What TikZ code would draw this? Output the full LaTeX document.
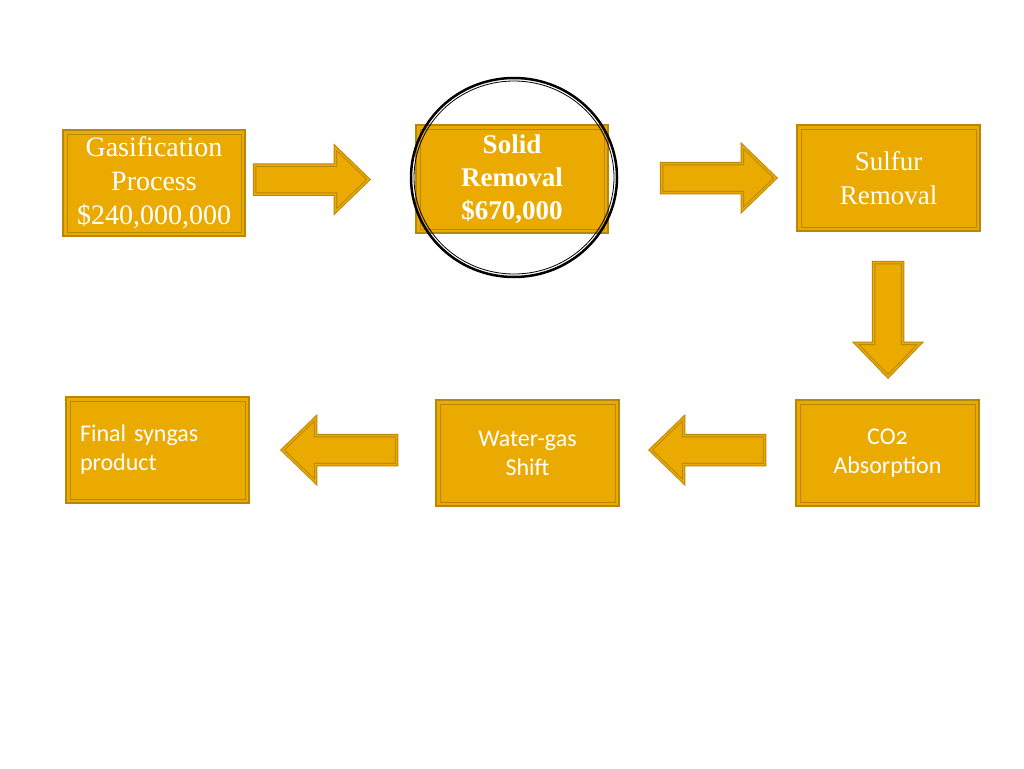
\documentclass[tikz,border=0pt]{standalone}
\usepackage{fontspec}
\setmainfont{Liberation Serif}
\newfontfamily\candara{Carlito}[Numbers=OldStyle]
\usepackage{xcolor}
\usepackage{tikz}
\usetikzlibrary{shapes.arrows}

\definecolor{boxgold}{RGB}{234,170,0}
\definecolor{rimgold}{RGB}{184,134,11}

\tikzset{
  stepbox/.style={draw=rimgold, fill=boxgold, line width=2.5pt, inner sep=0pt,
    minimum width=183pt, minimum height=106pt, text=white, align=center,
    path picture={\draw[rimgold, line width=0.8pt]
      ([shift={(4pt,-4pt)}]path picture bounding box.north west) rectangle
      ([shift={(-4pt,4pt)}]path picture bounding box.south east);}},
  serifbox/.style={stepbox, font=\fontsize{28}{34}\selectfont},
  sansbox/.style={stepbox, font=\candara\fontsize{24}{29}\selectfont},
  flowarrow/.style={single arrow, draw=rimgold, double=boxgold, double distance=1.5pt,
    line width=1pt, fill=boxgold, inner xsep=0pt, inner ysep=14pt, minimum height=114pt,
    minimum width=63pt, single arrow head extend=17.5pt, single arrow tip angle=88, anchor=tail},
}

\begin{document}
\begin{tikzpicture}[x=1pt, y=-1pt]
\fill[white] (0,0) rectangle (1024,768);
\useasboundingbox (0,0) rectangle (1024,768);

% top row
\node[serifbox, minimum width=182pt] (gas) at (154,183) {Gasification\\Process\\\$240,000,000};
\node[serifbox, minimum width=192pt, minimum height=108pt, font=\bfseries\fontsize{27}{33}\selectfont] (solid) at (512,179) {Solid\\Removal\\\$670,000};
\node[serifbox, font=\fontsize{27}{34}\selectfont] (sulfur) at (888.5,178) {Sulfur\\Removal};

% bottom row
\node[sansbox] (co2) at (887.5,453) {CO2\\Absorption};
\node[sansbox] (shift) at (527.5,453) {Water-gas\\Shift};
\node[sansbox, align=left, text width=155pt] (final) at (157.5,450) {Final syngas\\product};

% block arrows
\node[flowarrow] (a1) at (254,179.5) {};
\node[flowarrow] (a2) at (661,178) {};
\node[flowarrow, shape border rotate=270, inner xsep=14pt, inner ysep=0pt] (a3) at (888,262) {};
\node[flowarrow, shape border rotate=180] (a4) at (765,450) {};
\node[flowarrow, shape border rotate=180] (a5) at (397,450) {};

% ring round the solid removal step
\draw[line width=2.5pt] (514,177.5) ellipse [x radius=103pt, y radius=99.5pt];
\draw[line width=0.8pt] (514,177.5) ellipse [x radius=100pt, y radius=96.5pt];
\end{tikzpicture}
\end{document}
